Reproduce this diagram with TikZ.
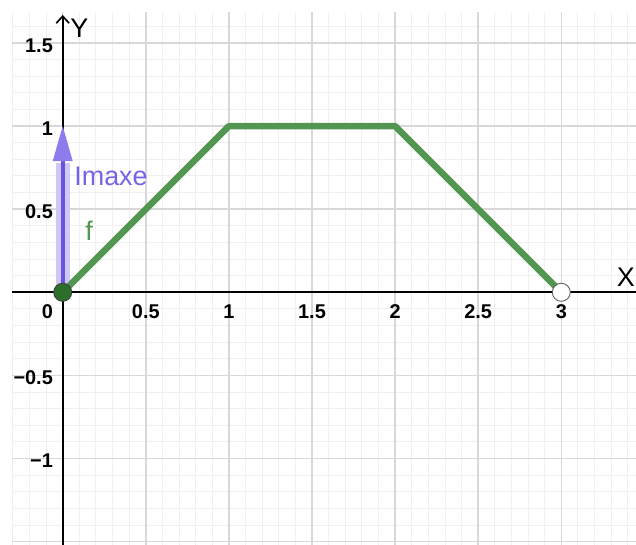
\documentclass[tikz,border=0pt]{standalone}
\usepackage{fontspec}
\setmainfont{Liberation Sans}
\usetikzlibrary{arrows.meta}
\definecolor{minorgray}{RGB}{240,240,240}
\definecolor{majorgray}{RGB}{216,216,216}
\definecolor{funcgreen}{RGB}{82,150,82}
\definecolor{dotgreen}{RGB}{42,112,42}
\definecolor{vecpurple}{RGB}{104,84,222}
\definecolor{vechead}{RGB}{140,124,236}
\definecolor{vechalo}{RGB}{206,200,246}
\definecolor{labpurple}{RGB}{118,100,230}
\tikzset{
  ticklabel/.style={font=\fontsize{17}{20}\selectfont\bfseries, inner sep=0pt},
  axislabel/.style={font=\fontsize{23}{27}\selectfont, inner sep=0pt},
  dotpoint/.style={circle, minimum size=0.54cm, inner sep=0pt, line width=0.8pt},
}
\begin{document}
\begin{tikzpicture}[x=4.986cm, y=4.986cm]
      \useasboundingbox (-0.3773,-1.5205) rectangle (3.4495,1.7587);
      % grid and axes in the GeoGebra look
      \draw[minorgray, line width=0.8pt, step=0.1] (-0.305,-1.5205) grid (3.4495,1.686);
      \draw[majorgray, line width=1.3pt, step=0.5] (-0.305,-1.5205) grid (3.4495,1.686);

      \coordinate (xmin) at (-0.305,0);
      \coordinate (xmax) at (3.4495,0);
      \coordinate (ymin) at (0,-1.5205);
      \coordinate (ymax) at (0,1.6685);
      \coordinate (O) at (0,0);
      \coordinate (vtop) at (0,1);
      \coordinate (P1) at (1,1);
      \coordinate (P2) at (2,1);
      \coordinate (P3) at (3,0);

      \draw[line width=1.4pt] (xmin) -- (xmax);
      \draw[line width=1.4pt, -{Straight Barb[length=6pt,width=11pt]}] (ymin) -- (ymax);

      \node[ticklabel] (xt0) at (-0.0915,-0.1185) {0};
      \foreach \x [count=\i] in {0.5,1,1.5,2,2.5,3}
        \node[ticklabel] (xt\i) at (\x,-0.1185) {\x};
      \foreach \y/\lab [count=\i] in {1.5/1.5,1/1,0.5/0.5,-0.5/−0.5,-1/−1}
        \node[ticklabel, anchor=east] (yt\i) at (-0.058,\y-0.014) {\lab};

      \draw[vechalo, line width=0.42cm] (0,0) -- (0,0.78);
      \draw[vecpurple, line width=0.13cm, -{Triangle[length=1.05cm,width=0.6cm,line width=0pt,color=vechead]}] (O) -- (vtop);

      \draw[funcgreen, line width=5.5pt, line join=round] (O) -- (P1) -- (P2) -- (P3);

      \node[dotpoint, draw=black!75, fill=dotgreen] (start) at (O) {};
      \node[dotpoint, draw=black!60, fill=white] (end) at (P3) {};

      \node[axislabel] (xlab) at (3.388,0.089) {X};
      \node[axislabel] (ylab) at (0.0999,1.586) {Y};
      \node[axislabel, text=labpurple] (imaxe) at (0.2906,0.6955) {Imaxe};
      \node[axislabel, text=funcgreen] (flab) at (0.159,0.370) {f};
    \end{tikzpicture}
\end{document}
